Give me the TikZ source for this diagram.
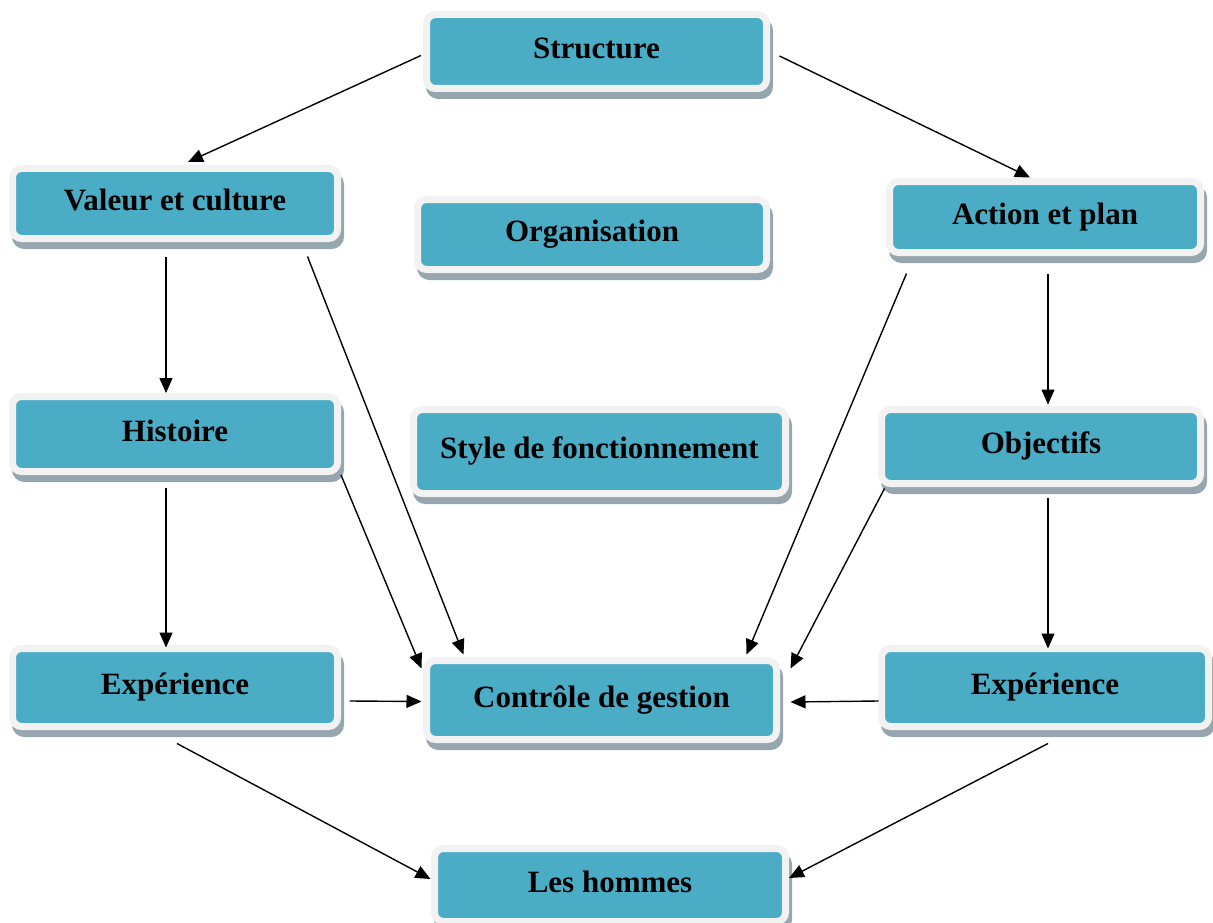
\documentclass[tikz,border=0pt]{standalone}
\usepackage{fontspec}
\setmainfont{Liberation Serif}
\usetikzlibrary{arrows.meta}

\definecolor{boxfill}{RGB}{75,172,198}
\definecolor{boxrim}{RGB}{242,242,242}
\definecolor{boxshade}{RGB}{150,166,174}

\tikzset{
  box/.style={rectangle, rounded corners=9pt, fill=boxfill, draw=boxrim,
    line width=7pt, inner sep=0pt, text height=22pt, text depth=8pt,
    font=\fontsize{31}{36}\selectfont\bfseries,
    preaction={draw=boxshade, fill=boxshade, line width=7pt,
      transform canvas={shift={(3pt,-7pt)}}}},
  arr/.style={-{Triangle[length=15pt,width=13pt]}, line width=1.4pt, black}
}

\begin{document}
\begin{tikzpicture}[x=1pt,y=-1pt]
\useasboundingbox (0,0) rectangle (1213,923);

% boxes
\node[box, minimum width=340pt, minimum height=74pt] (str) at (596.5,51.5) {Structure};
\node[box, minimum width=325pt, minimum height=70pt] (val) at (175,203.5) {Valeur et culture};
\node[box, minimum width=349pt, minimum height=70pt] (org) at (592,234.5) {Organisation};
\node[box, minimum width=311pt, minimum height=71pt] (act) at (1045,217) {Action et plan};
\node[box, minimum width=325pt, minimum height=75pt] (his) at (175,434) {Histoire};
\node[box, minimum width=372pt, minimum height=84pt] (sty) at (599.5,451.5) {Style de fonctionnement};
\node[box, minimum width=319pt, minimum height=74pt] (obj) at (1041,446.5) {Objectifs};
\node[box, minimum width=325pt, minimum height=78pt] (expl) at (175,687.5) {Expérience};
\node[box, minimum width=350pt, minimum height=79pt] (ctl) at (601.5,700) {Contrôle de gestion};
\node[box, minimum width=327pt, minimum height=78pt] (expr) at (1045,687.5) {Expérience};
\node[box, minimum width=351pt, minimum height=73pt] (hom) at (610,885) {Les hommes};

% connectors
\draw[arr] ([xshift=-2pt,yshift=-4pt]str.west) -- ([xshift=13pt,yshift=3pt]val.north);
\draw[arr] ([xshift=9.5pt,yshift=-4.5pt]str.east) -- ([xshift=-15pt,yshift=0.5pt]act.north);
\draw[arr] ([xshift=-9pt,yshift=-14.5pt]val.south) -- ([xshift=-9pt]his.north);
\draw[arr] ([xshift=-33.5pt,yshift=-14.5pt]val.south east) -- ([xshift=40.5pt,yshift=2.5pt]ctl.north west);
\draw[arr] ([xshift=-9pt,yshift=-12.5pt]his.south) -- ([xshift=-9pt,yshift=-2.5pt]expl.north);
\draw[arr] ([xshift=0pt,yshift=0pt]his.south east) -- ([xshift=-1.5pt,yshift=-11.5pt]ctl.north west);
\draw[arr] ([xshift=8.5pt,yshift=-13.5pt]expl.east) -- ([xshift=-1.5pt,yshift=-1.5pt]ctl.west);
\draw[arr] ([xshift=2pt,yshift=-13.5pt]expl.south) -- ([xshift=-0.5pt,yshift=6pt]hom.west);
\draw[arr] ([xshift=20.5pt,yshift=-17.5pt]act.south west) -- ([xshift=-33.5pt,yshift=2.5pt]ctl.north east);
\draw[arr] ([xshift=3pt,yshift=-17.5pt]act.south) -- ([xshift=7pt,yshift=1.5pt]obj.north);
\draw[arr] ([xshift=6.5pt,yshift=-1.5pt]obj.south west) -- ([xshift=10.5pt,yshift=-11.5pt]ctl.north east);
\draw[arr] ([xshift=7pt,yshift=-10.5pt]obj.south) -- ([xshift=3pt,yshift=-3.5pt]expr.north);
\draw[arr] ([xshift=0.5pt,yshift=-13.5pt]expr.west) -- ([xshift=10.5pt,yshift=-2pt]ctl.east);
\draw[arr] ([xshift=3pt,yshift=-13.5pt]expr.south) -- ([xshift=0pt,yshift=7pt]hom.east);
\end{tikzpicture}
\end{document}
